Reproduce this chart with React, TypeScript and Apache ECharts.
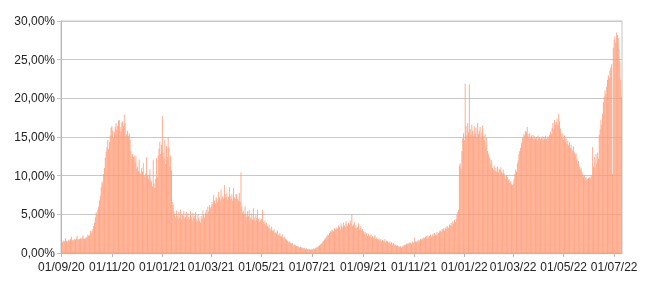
import React, { useEffect, useRef } from "react";
import * as echarts from "echarts";

const sep20 = [1.3,1.4,1.5,1.6,1.5,1.9,1.6,1.5,1.6,1.7,1.6,1.8,2.1,1.7,1.6,1.7,1.8,1.7,1.9,2.2,1.8,1.7,1.8,1.9,1.8,2.0,2.3,1.9,1.8,1.9];
const oct20 = [2.0,2.1,2.4,2.2,2.3,2.9,2.6,2.8,3.1,3.5,3.9,4.6,5.3,4.9,5.6,6.0,6.8,7.4,8.5,9.2,9.0,10.2,11.0,12.3,13.1,13.7,14.6,13.4,14.4,15.2,16.2];
const nov20 = [16.4,15.8,14.9,15.6,16.3,16.8,15.9,16.5,17.1,17.2,16.3,15.7,16.9,17.0,16.4,17.9,16.8,15.2,15.4,15.8,15.1,15.5,14.6,13.2,12.2,12.8,12.4,12.6,11.7,12.5];
const dec20 = [10.9,11.2,10.6,12.1,10.4,10.2,11.0,10.5,11.6,10.1,9.9,10.3,12.4,10.0,9.6,10.1,10.8,9.4,9.2,8.6,12.0,9.0,8.4,9.6,12.3,9.8,12.6,13.5,14.4,12.8,14.0];
const jan21 = [17.7,13.0,12.2,14.6,11.5,13.8,12.4,15.0,13.6,11.2,12.6,10.7,6.6,6.2,5.4,5.0,4.6,5.5,4.8,4.4,5.3,4.6,5.6,4.3,5.0,4.8,5.4,4.5,4.7,5.3,4.4];
const feb21 = [5.1,4.6,4.3,5.4,4.7,4.2,5.2,4.5,4.8,5.3,4.4,4.1,5.0,4.6,4.2,3.9,4.8,4.4,5.5,4.9,4.6,5.2,5.6,5.0,6.0,5.4,6.2,5.8];
const mar21 = [6.0,6.6,6.3,7.5,6.8,6.4,7.2,7.0,6.6,7.9,7.2,6.8,8.2,7.1,7.4,7.0,8.8,7.6,7.2,7.8,6.9,7.3,8.5,7.4,7.0,7.6,6.8,8.4,7.2,7.0,7.6];
const apr21 = [7.6,7.0,6.8,7.8,6.6,10.4,6.0,5.2,5.5,4.9,6.0,5.1,4.7,5.4,4.8,5.6,4.6,4.4,5.1,4.3,5.8,4.6,4.2,4.9,4.5,5.6,4.4,4.0,4.5,4.2];
const may21 = [4.4,5.6,4.0,3.8,4.2,3.6,3.9,3.5,3.3,3.7,3.2,3.0,3.4,2.9,2.8,3.1,2.6,2.7,2.5,2.9,2.4,2.3,2.6,2.2,2.1,2.4,2.0,1.9,2.1,1.8,1.7];
const jun21 = [1.6,1.5,1.4,1.5,1.3,1.2,1.3,1.1,1.0,1.1,1.0,0.9,0.9,0.8,0.8,0.7,0.8,0.7,0.7,0.6,0.6,0.6,0.5,0.6,0.5,0.5,0.5,0.5,0.4,0.5];
const jul21 = [0.5,0.5,0.6,0.5,0.6,0.7,0.7,0.8,0.9,1.0,1.1,1.2,1.3,1.5,1.6,1.7,1.9,2.0,2.2,2.4,2.3,2.6,2.8,2.7,3.0,2.9,2.8,3.2,3.0,3.3,3.1];
const aug21 = [3.2,3.6,3.4,3.0,3.8,3.5,3.3,3.9,3.6,3.4,4.1,3.7,3.5,3.9,3.6,4.2,3.8,5.0,3.5,3.7,4.0,3.3,3.6,3.2,3.4,3.8,3.0,3.2,3.5,2.9,3.1];
const sep21 = [2.8,2.5,2.7,2.4,2.6,2.2,2.5,2.3,2.1,2.4,2.0,2.2,1.9,2.1,2.3,1.8,2.0,1.8,1.7,1.9,1.6,1.8,1.5,1.7,1.6,1.5,1.8,1.4,1.6,1.5];
const oct21 = [1.4,1.3,1.5,1.2,1.4,1.1,1.3,1.2,1.0,1.1,0.9,1.0,0.9,0.8,0.8,0.9,0.7,0.8,1.0,0.9,1.1,1.0,1.2,1.1,1.3,1.2,1.4,1.3,1.2,1.5,1.4];
const nov21 = [1.3,2.0,1.5,1.4,1.6,1.5,1.7,1.6,1.8,1.7,1.9,1.8,2.0,1.9,2.1,2.2,1.9,2.3,2.0,2.2,2.4,2.1,2.3,2.5,2.2,2.6,2.4,2.3,2.7,2.5];
const dec21 = [2.6,2.8,2.9,2.7,3.1,3.0,3.2,2.9,3.3,3.1,3.5,3.4,3.2,3.7,3.6,3.9,3.5,4.1,3.8,4.3,4.0,4.4,4.9,5.3,5.6,11.3,11.6,10.9,13.2,14.8,15.5];
const jan22 = [14.6,21.9,16.4,15.2,16.8,15.6,21.8,16.0,15.3,16.6,15.8,15.1,16.4,15.5,16.2,15.0,16.8,15.4,15.8,16.3,14.9,15.6,16.5,15.2,14.6,15.4,13.8,14.9,13.2,12.8,12.4];
const feb22 = [12.2,11.5,12.0,11.0,10.8,11.3,10.6,11.0,10.5,11.2,10.4,10.9,10.7,11.1,10.5,10.3,10.8,10.2,10.0,9.6,10.1,9.8,9.4,9.6,9.1,9.3,8.9,8.8];
const mar22 = [9.0,9.6,10.2,10.8,10.5,11.6,12.0,12.8,13.2,13.6,14.2,14.8,15.0,15.4,15.2,15.8,15.6,16.3,15.4,15.0,15.5,14.8,15.2,14.9,15.3,14.7,15.1,14.8,15.0,14.6,15.2];
const apr22 = [14.8,15.0,14.7,14.9,15.1,14.6,15.0,14.8,15.2,14.7,14.9,15.1,14.8,15.3,15.7,15.4,16.2,16.8,16.0,17.2,16.6,16.9,17.4,16.5,18.0,17.0,16.1,15.4,15.0,15.5];
const may22 = [14.6,15.2,14.4,14.8,14.1,14.5,13.9,14.3,13.6,14.0,13.4,13.2,13.8,13.0,12.7,12.9,12.2,11.6,11.9,11.2,10.8,11.0,10.5,10.2,9.9,10.1,9.7,9.8,9.5,9.6,9.7];
const jun22 = [9.8,9.6,10.1,9.9,13.7,11.2,12.4,11.0,12.8,11.6,13.0,12.2,15.3,16.0,17.2,16.6,18.0,19.5,20.2,21.0,20.6,21.5,22.4,23.0,22.6,23.6,24.0,24.4,10.2,26.5];
const jul22 = [27.6,28.0,27.2,28.5,28.2,27.8,26.3,24.8,22.4,20.2];

const values = [
  ...sep20, ...oct20, ...nov20, ...dec20, ...jan21, ...feb21, ...mar21, ...apr21,
  ...may21, ...jun21, ...jul21, ...aug21, ...sep21, ...oct21, ...nov21, ...dec21,
  ...jan22, ...feb22, ...mar22, ...apr22, ...may22, ...jun22, ...jul22,
];

const tickLabels = ["01/09/20","01/11/20","01/01/21","01/03/21","01/05/21","01/07/21","01/09/21","01/11/21","01/01/22","01/03/22","01/05/22","01/07/22"];

const startDate = Date.UTC(2020, 8, 1);
const pad = (n: number) => (n < 10 ? "0" + n : "" + n);
const categories = values.map((_, i) => {
  const d = new Date(startDate + i * 86400000);
  return pad(d.getUTCDate()) + "/" + pad(d.getUTCMonth() + 1) + "/" + pad(d.getUTCFullYear() % 100);
});

export default function App() {
  const ref = useRef<HTMLDivElement>(null);
  useEffect(() => {
    if (!ref.current) return;
    const chart = echarts.init(ref.current, null, { renderer: "svg" });
    const tickSet = new Set(tickLabels);
    const showFn = (_i: number, v: string) => tickSet.has(v);
    chart.setOption({
      animation: false,
      textStyle: { fontFamily: "Liberation Sans, Arial, sans-serif" },
      grid: { left: 61, right: 28, top: 21, bottom: 35, show: true, borderColor: "#c4c4c4", borderWidth: 1 },
      xAxis: {
        type: "category",
        data: categories,
        boundaryGap: true,
        axisLine: { show: true, lineStyle: { color: "#b8b8b8", width: 1 } },
        axisTick: { show: true, interval: showFn, alignWithLabel: true, length: 4, lineStyle: { color: "#b8b8b8" } },
        axisLabel: { interval: showFn, color: "#222", fontSize: 12, margin: 8, fontFamily: "Liberation Sans, Arial, sans-serif" },
        splitLine: { show: false },
      },
      yAxis: {
        type: "value",
        min: 0,
        max: 30,
        interval: 5,
        axisLine: { show: true, lineStyle: { color: "#b8b8b8", width: 1 } },
        axisTick: { show: true, length: 4, lineStyle: { color: "#c4c4c4" } },
        axisLabel: {
          color: "#222",
          fontSize: 12,
          margin: 6,
          fontFamily: "Liberation Sans, Arial, sans-serif",
          formatter: (v: number) => v.toFixed(2).replace(".", ",") + "%",
        },
        splitLine: { show: true, lineStyle: { color: "#c8c8c8", width: 1 } },
      },
      series: [
        {
          type: "bar",
          data: values,
          barCategoryGap: "0%",
          itemStyle: { color: "#ff9873", opacity: 0.8 },
          emphasis: { disabled: true },
        },
      ],
    });
    return () => chart.dispose();
  }, []);
  return <div ref={ref} style={{ position: "fixed", left: 0, top: 0, width: 650, height: 288 }} />;
}
